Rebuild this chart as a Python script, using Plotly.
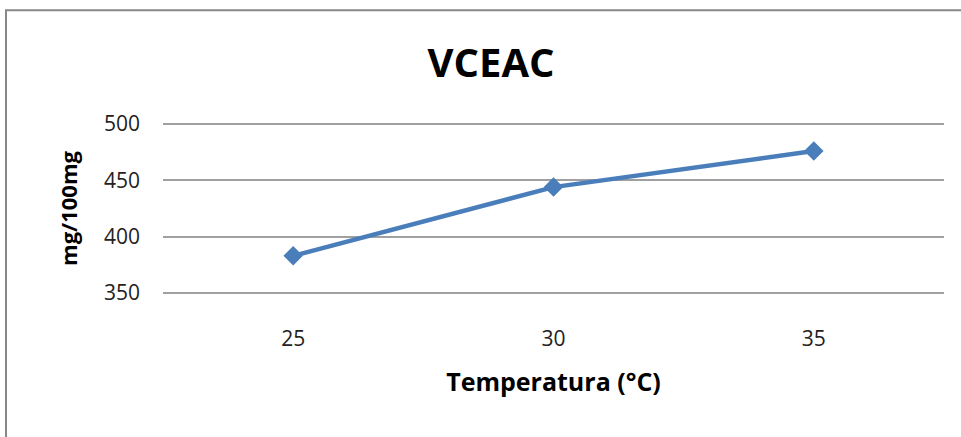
import plotly.graph_objects as go

temps = ["25", "30", "35"]
vceac = [383, 444, 476]
y_ticks = [350, 400, 450, 500]

L, R, T, B = 163, 17, 124, 144
W, H = 961, 437
pw, ph = W - L - R, H - T - B

fig = go.Figure()
fig.add_trace(go.Scatter(
    x=temps, y=vceac, mode="lines+markers",
    line=dict(color="#4a7ebb", width=4.5),
    marker=dict(symbol="diamond", size=15, color="#4a7ebb"),
    showlegend=False,
))

fig.update_layout(
    width=W, height=H,
    margin=dict(l=L, r=R, t=T - 1, b=B - 1),
    paper_bgcolor="white", plot_bgcolor="white",
    title=dict(text="<b>VCEAC</b>", x=491 / W, xref="container", xanchor="center",
               y=1 - 63 / H, yref="container", yanchor="middle",
               font=dict(family="Open Sans", size=40, color="black")),
    xaxis=dict(type="category", range=[-0.5, 2.5], showgrid=False, zeroline=False,
               showline=False, ticks="", ticklabelstandoff=30,
               tickfont=dict(family="Open Sans", size=21, color="#222"),
               title=dict(text="<b>Temperatura (°C)</b>", standoff=22,
                          font=dict(family="Open Sans", size=25, color="black"))),
    yaxis=dict(range=[349.1, 500.9], tickvals=y_ticks, showgrid=True, gridcolor="#a0a0a0",
               gridwidth=1.5, zeroline=False, showline=False, ticks="",
               ticklabelstandoff=22,
               tickfont=dict(family="Open Sans", size=21, color="#222"),
               title=dict(text="<b>mg/100mg</b>", standoff=20,
                          font=dict(family="Open Sans", size=22, color="black"))),
)

# outer chart border
fig.add_shape(type="rect", xref="paper", yref="paper",
              x0=(6 - L) / pw, x1=(980 - L) / pw,
              y0=1 - (460 - T) / ph, y1=1 + (T - 12.5) / ph,
              line=dict(color="#888888", width=2), fillcolor="rgba(0,0,0,0)", layer="below")

fig.write_html("out.html")
